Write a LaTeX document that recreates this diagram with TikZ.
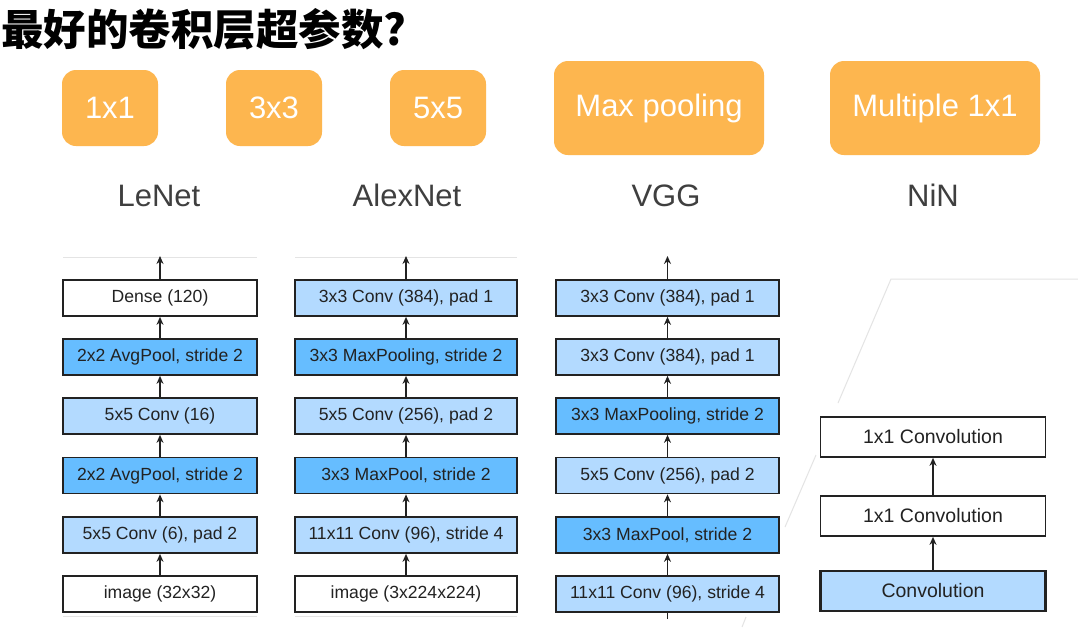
\documentclass[tikz,border=0pt]{standalone}
\usepackage{fontspec}
\setmainfont{Liberation Sans}
\newfontfamily\cjk{Noto Sans CJK SC}
\usetikzlibrary{arrows.meta}
\definecolor{orng}{HTML}{FDB64F}
\definecolor{lblue}{HTML}{B3DAFF}
\definecolor{mblue}{HTML}{66BDFF}
\definecolor{edge}{HTML}{222222}
\definecolor{lbl}{HTML}{3F3F3F}
\definecolor{faint}{HTML}{E4E4E4}
\begin{document}
\begin{tikzpicture}[x=1pt,y=-1pt,
  hp/.style={rounded corners=14pt, fill=orng, text=white, font=\fontsize{31}{36}\selectfont, inner sep=0pt},
  netname/.style={text=lbl, font=\fontsize{31}{36}\selectfont, anchor=base, inner sep=0pt},
  layer/.style={draw=edge, line width=1.7pt, minimum height=36pt, inner sep=0pt, font=\fontsize{17.6}{21}\selectfont, text=edge},
  lenetbox/.style={layer, minimum width=194pt},
  alexbox/.style={layer, minimum width=222pt},
  vggbox/.style={layer, minimum width=223pt},
  ninbox/.style={draw=edge, line width=1.7pt, minimum height=40pt, minimum width=225pt, inner sep=0pt, font=\fontsize{19.5}{23}\selectfont, text=edge},
  arr/.style={draw=edge, line width=1.9pt, -{Stealth[length=8pt,width=7pt]}},
  faintline/.style={draw=faint, line width=1pt}
]
\useasboundingbox[fill=white] (0,0) rectangle (1078,627);

% title
\node[anchor=base west, inner sep=0pt, font=\cjk\bfseries\fontsize{42.5}{48}\selectfont] (title) at (1,45) {最好的卷积层超参数?};

% hyperparameter boxes
\node[hp, minimum width=96pt, minimum height=76pt] (h1) at (110,108) {1x1};
\node[hp, minimum width=96pt, minimum height=76pt] (h3) at (274,108) {3x3};
\node[hp, minimum width=96pt, minimum height=76pt] (h5) at (438,108) {5x5};
\node[hp, minimum width=210pt, minimum height=94pt] (hmp) at (659,108) {Max pooling};
\node[hp, minimum width=210pt, minimum height=94pt] (hnin) at (935,108) {Multiple 1x1};

% network names
\node[netname] (nlenet) at (159,206) {LeNet};
\node[netname] (nalex) at (407,206) {AlexNet};
\node[netname] (nvgg) at (666,206) {VGG};
\node[netname] (nnin) at (933,206) {NiN};

% faint decoration lines
\draw[faintline] (63,257) -- (257,257);
\draw[faintline] (295,257) -- (517,257);
\draw[faintline] (63,616) -- (257,616);
\draw[faintline] (295,616) -- (517,616);
\draw[faintline] (1078,279) -- (891,279) -- (838,403);
\draw[faintline] (816,455) -- (785,527);
\draw[faintline] (746,617) -- (742,627);

% LeNet
\node[lenetbox, fill=white] (l1) at (160,594) {image (32x32)};
\node[lenetbox, fill=lblue] (l2) at (160,535) {5x5 Conv (6), pad 2};
\node[lenetbox, fill=mblue] (l3) at (160,475.5) {2x2 AvgPool, stride 2};
\node[lenetbox, fill=lblue] (l4) at (160,416) {5x5 Conv (16)};
\node[lenetbox, fill=mblue] (l5) at (160,357) {2x2 AvgPool, stride 2};
\node[lenetbox, fill=white] (l6) at (160,298) {Dense (120)};
\coordinate (lout) at (160,256);
\draw[arr] (l1) -- (l2);
\draw[arr] (l2) -- (l3);
\draw[arr] (l3) -- (l4);
\draw[arr] (l4) -- (l5);
\draw[arr] (l5) -- (l6);
\draw[arr] (l6) -- (lout);

% AlexNet
\node[alexbox, fill=white] (a1) at (406,594) {image (3x224x224)};
\node[alexbox, fill=lblue] (a2) at (406,535) {11x11 Conv (96), stride 4};
\node[alexbox, fill=mblue] (a3) at (406,475.5) {3x3 MaxPool, stride 2};
\node[alexbox, fill=lblue] (a4) at (406,416) {5x5 Conv (256), pad 2};
\node[alexbox, fill=mblue] (a5) at (406,357) {3x3 MaxPooling, stride 2};
\node[alexbox, fill=lblue] (a6) at (406,298) {3x3 Conv (384), pad 1};
\coordinate (aout) at (406,256);
\draw[arr] (a1) -- (a2);
\draw[arr] (a2) -- (a3);
\draw[arr] (a3) -- (a4);
\draw[arr] (a4) -- (a5);
\draw[arr] (a5) -- (a6);
\draw[arr] (a6) -- (aout);

% VGG
\node[vggbox, fill=lblue] (v1) at (667.5,594) {11x11 Conv (96), stride 4};
\node[vggbox, fill=mblue] (v2) at (667.5,535) {3x3 MaxPool, stride 2};
\node[vggbox, fill=lblue] (v3) at (667.5,475.5) {5x5 Conv (256), pad 2};
\node[vggbox, fill=mblue] (v4) at (667.5,416) {3x3 MaxPooling, stride 2};
\node[vggbox, fill=lblue] (v5) at (667.5,357) {3x3 Conv (384), pad 1};
\node[vggbox, fill=lblue] (v6) at (667.5,298) {3x3 Conv (384), pad 1};
\coordinate (vin) at (667.5,619);
\coordinate (vout) at (667.5,256);
\draw[draw=edge, line width=1.9pt] (vin) -- (v1);
\draw[arr] (v1) -- (v2);
\draw[arr] (v2) -- (v3);
\draw[arr] (v3) -- (v4);
\draw[arr] (v4) -- (v5);
\draw[arr] (v5) -- (v6);
\draw[arr] (v6) -- (vout);

% NiN
\node[ninbox, fill=lblue, line width=2.4pt] (n1) at (933,591) {Convolution};
\node[ninbox, fill=white] (n2) at (933,516) {1x1 Convolution};
\node[ninbox, fill=white] (n3) at (933,437) {1x1 Convolution};
\draw[arr] (n1) -- (n2);
\draw[arr] (n2) -- (n3);
\end{tikzpicture}
\end{document}
